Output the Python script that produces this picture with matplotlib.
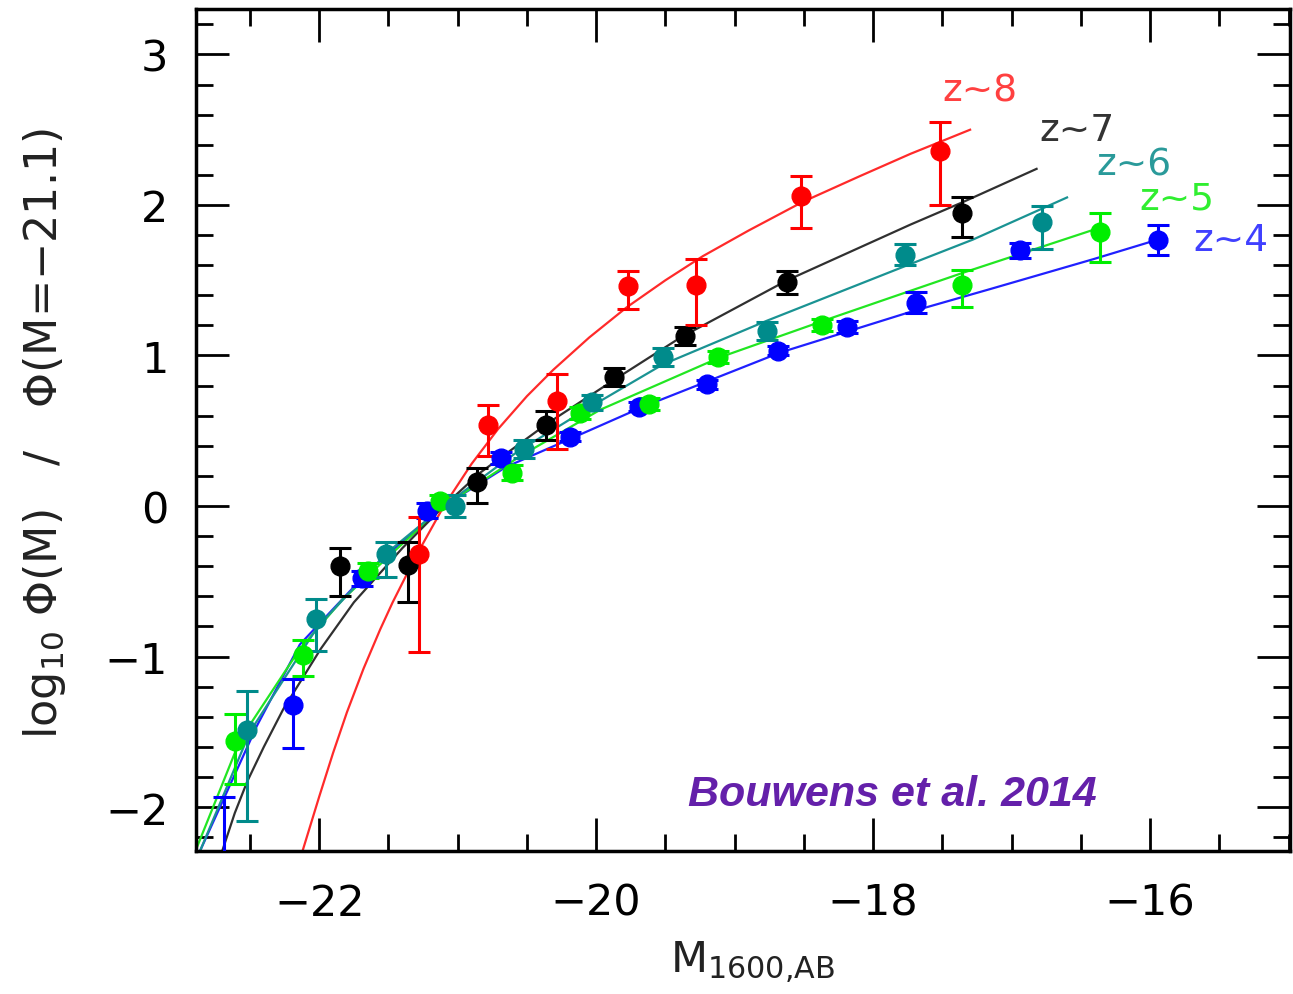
import numpy as np
import matplotlib
matplotlib.use('Agg')
import matplotlib.pyplot as plt
from matplotlib.ticker import MultipleLocator

# data points: M, log phi ratio, error up, error down
m_z4 = [-22.69, -22.19, -21.69, -21.22, -20.69, -20.19, -19.69, -19.20, -18.69, -18.19, -17.69, -16.94, -15.94]
y_z4 = [-2.45, -1.32, -0.48, -0.03, 0.32, 0.46, 0.66, 0.81, 1.03, 1.19, 1.35, 1.70, 1.77]
up_z4 = [0.52, 0.17, 0.05, 0.05, 0.04, 0.03, 0.03, 0.03, 0.03, 0.04, 0.07, 0.05, 0.10]
dn_z4 = [0.30, 0.29, 0.05, 0.05, 0.04, 0.03, 0.03, 0.03, 0.03, 0.04, 0.07, 0.05, 0.10]

m_z5 = [-22.61, -22.12, -21.65, -21.13, -20.61, -20.12, -19.62, -19.12, -18.37, -17.36, -16.36]
y_z5 = [-1.56, -0.99, -0.43, 0.03, 0.22, 0.62, 0.68, 0.99, 1.20, 1.47, 1.82]
up_z5 = [0.18, 0.10, 0.05, 0.04, 0.05, 0.04, 0.04, 0.04, 0.04, 0.10, 0.13]
dn_z5 = [0.29, 0.14, 0.05, 0.04, 0.05, 0.04, 0.04, 0.04, 0.04, 0.15, 0.20]

m_z6 = [-22.52, -22.02, -21.52, -21.02, -20.52, -20.03, -19.52, -18.77, -17.77, -16.78]
y_z6 = [-1.49, -0.75, -0.32, 0.00, 0.38, 0.69, 0.99, 1.16, 1.67, 1.89]
up_z6 = [0.26, 0.13, 0.08, 0.07, 0.06, 0.05, 0.06, 0.06, 0.07, 0.10]
dn_z6 = [0.60, 0.21, 0.15, 0.07, 0.06, 0.05, 0.06, 0.06, 0.07, 0.18]

m_z7 = [-21.85, -21.36, -20.86, -20.36, -19.87, -19.36, -18.62, -17.36]
y_z7 = [-0.40, -0.39, 0.16, 0.54, 0.86, 1.13, 1.49, 1.95]
up_z7 = [0.12, 0.15, 0.09, 0.09, 0.06, 0.06, 0.07, 0.10]
dn_z7 = [0.20, 0.25, 0.14, 0.10, 0.06, 0.06, 0.08, 0.16]

m_z8 = [-21.28, -20.78, -20.28, -19.77, -19.28, -18.52, -17.52]
y_z8 = [-0.32, 0.54, 0.70, 1.46, 1.47, 2.06, 2.36]
up_z8 = [0.25, 0.13, 0.18, 0.10, 0.17, 0.13, 0.19]
dn_z8 = [0.65, 0.21, 0.32, 0.15, 0.27, 0.21, 0.36]

# fitted curves, points
cm_z4 = [-22.86, -22.45, -22.14, -21.63, -21.10, -20.65, -20.19, -19.66, -18.67, -17.73, -17.16, -16.41, -15.98]
cy_z4 = [-2.29, -1.46, -0.92, -0.42, 0.00, 0.26, 0.445, 0.66, 1.02, 1.29, 1.44, 1.64, 1.76]

cm_z5 = [-22.88, -22.57, -22.14, -21.83, -21.47, -21.10, -20.55, -19.97, -19.10, -18.33, -17.73, -17.35, -16.36]
cy_z5 = [-2.26, -1.55, -0.95, -0.62, -0.31, 0.00, 0.33, 0.64, 0.99, 1.24, 1.43, 1.55, 1.85]

cm_z6 = [-22.86, -22.50, -22.01, -21.51, -21.10, -20.57, -20.04, -19.52, -18.77, -17.78, -17.28, -16.60]
cy_z6 = [-2.29, -1.50, -0.80, -0.31, 0.00, 0.36, 0.66, 0.94, 1.23, 1.59, 1.77, 2.05]

cm_z7 = [-22.70, -22.61, -22.52, -22.40, -22.26, -21.99, -21.75, -21.40, -21.10, -20.84, -20.35,
         -19.85, -19.39, -18.62, -17.73, -17.35, -16.82]
cy_z7 = [-2.29, -2.04, -1.83, -1.60, -1.35, -0.95, -0.64, -0.28, 0.00, 0.22, 0.55,
         0.85, 1.12, 1.50, 1.87, 2.02, 2.24]

cm_z8 = [-22.12, -22.00, -21.90, -21.80, -21.68, -21.56, -21.47, -21.30, -21.10, -20.90, -20.71,
         -20.50, -20.31, -20.05, -19.78, -19.50, -19.23, -18.90, -18.51, -18.10, -17.73, -17.30]
cy_z8 = [-2.29, -1.93, -1.64, -1.37, -1.08, -0.82, -0.64, -0.33, 0.00, 0.28, 0.51,
         0.73, 0.905, 1.12, 1.32, 1.50, 1.66, 1.83, 2.02, 2.19, 2.34, 2.50]

labels = ['z~4', 'z~5', 'z~6', 'z~7', 'z~8']

fig = plt.figure(figsize=(12.93, 9.95), dpi=100)
ax = fig.add_axes([196/1293, 1-852/995, 1094/1293, 842/995])

series = [
    (m_z4, y_z4, up_z4, dn_z4, cm_z4, cy_z4, '#0000ff', '#2020ff'),
    (m_z5, y_z5, up_z5, dn_z5, cm_z5, cy_z5, '#00ee00', '#22e622'),
    (m_z6, y_z6, up_z6, dn_z6, cm_z6, cy_z6, '#008b8b', '#1a9393'),
    (m_z7, y_z7, up_z7, dn_z7, cm_z7, cy_z7, '#000000', '#303030'),
    (m_z8, y_z8, up_z8, dn_z8, cm_z8, cy_z8, '#ff0000', '#ff2a2a'),
]

for m, y, up, dn, cm, cy, pc, lc in series:
    ax.plot(cm, cy, color=lc, lw=1.6, zorder=2)
for m, y, up, dn, cm, cy, pc, lc in series:
    ax.errorbar(m, y, yerr=[dn, up], fmt='o', color=pc, ms=13.5, elinewidth=2.2,
                capsize=8, capthick=2.2, zorder=3)

# curve labels
lab_pos = [(-15.42, 1.77), (-15.81, 2.04), (-16.12, 2.27), (-16.53, 2.50), (-17.23, 2.76)]
lab_col = ['#4040ff', '#30ee30', '#2a9a9a', '#333333', '#ff4040']
for t, (px, py), c in zip(labels, lab_pos, lab_col):
    ax.text(px, py, t, color=c, fontsize=27, ha='center', va='center')

ax.text(-17.86, -1.91, 'Bouwens et al. 2014', color='#6420aa', fontsize=31,
        fontweight='bold', fontstyle='italic', family='Liberation Sans',
        ha='center', va='center')

ax.set_xlim(-22.89, -14.99)
ax.set_ylim(-2.292, 3.302)
ax.set_xticks([-22, -20, -18, -16])
ax.xaxis.set_minor_locator(MultipleLocator(0.5))
ax.set_yticks([-2, -1, 0, 1, 2, 3])
ax.yaxis.set_minor_locator(MultipleLocator(0.2))
ax.tick_params(which='both', direction='in', top=True, right=True, width=2, labelsize=31)
ax.tick_params(which='major', length=24)
ax.tick_params(which='minor', length=12)
ax.tick_params(axis='x', pad=22)
ax.tick_params(axis='y', pad=20)
for s in ax.spines.values():
    s.set_linewidth(2.5)

fig.text(45/1293, 1-433/995, r'log$_{10}$ $\Phi$(M)   /   $\Phi$(M=$-$21.1)', rotation=90,
         fontsize=32, ha='center', va='center', color='#222222')
fig.text(752/1293, 1-963/995, r'M$_{\rm 1600{,}AB}$', fontsize=31, ha='center', va='center',
         color='#222222')

fig.savefig('out.png', dpi=100)
